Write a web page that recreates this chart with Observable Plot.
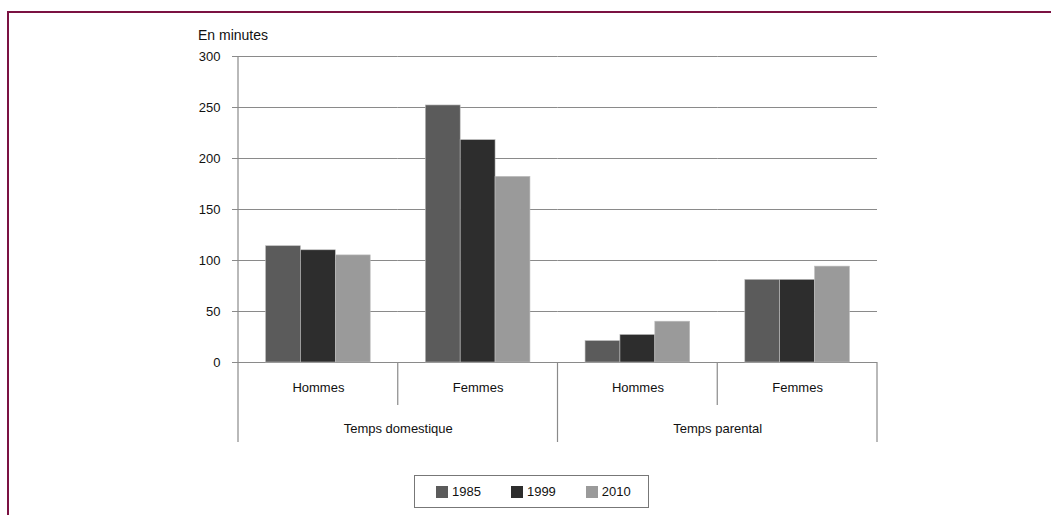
<!DOCTYPE html>
<html>
<head>
<meta charset="utf-8">
<script src="https://cdn.jsdelivr.net/npm/d3@7"></script>
<script src="https://cdn.jsdelivr.net/npm/@observablehq/plot@0.6"></script>
<style>
  body { margin: 0; background: #fff; font-family: "Liberation Sans", Arial, sans-serif; }
  #wrap { position: relative; width: 1051px; height: 515px; overflow: hidden; background: #fff; }
  #border { position: absolute; left: 7px; top: 11px; width: 1200px; height: 700px;
            border-left: 2.5px solid #7b1242; border-top: 2.5px solid #7b1242; }
  #chart { position: absolute; left: 0; top: 0; }
  #ylabel { position: absolute; left: 198px; top: 27px; font-size: 14px; color: #111; }
  #legend { position: absolute; left: 414px; top: 475px; width: 233px; height: 31px;
            border: 1px solid #777; box-sizing: content-box; display: flex; align-items: center;
            padding-left: 0; font-size: 13px; color: #111; }
  .sw { display: inline-flex; align-items: center; margin-left: 21px; }
  .sw + .sw { margin-left: 30px; }
  .sw i { display: inline-block; width: 12px; height: 12px; margin-right: 4px; }
</style>
</head>
<body>
<div id="wrap">
  <div id="border"></div>
  <div id="chart"></div>
  <div id="ylabel">En minutes</div>
  <div id="legend"></div>
</div>
<script>
const groups = ["Temps domestique", "Temps domestique", "Temps parental", "Temps parental"];
const subgroups = ["Hommes", "Femmes", "Hommes", "Femmes"];
const years = ["1985", "1999", "2010"];
const v1985 = [114, 252, 21, 81];
const v1999 = [110, 218, 27, 81];
const v2010 = [105, 182, 40, 94];
const colors = ["#5b5b5b", "#2d2d2d", "#9a9a9a"];
const yTicks = [0, 50, 100, 150, 200, 250, 300];

const series = [v1985, v1999, v2010];
const keys = subgroups.map((_, i) => i);
const rows = [];
keys.forEach(i => years.forEach((yr, j) => rows.push({k: i, sub: subgroups[i], group: groups[i], year: yr, value: series[j][i]})));
const subRows = keys.map(i => ({k: i, label: subgroups[i]}));
const groupRows = keys.filter(i => i % 2 === 0).map(i => ({k: i, label: groups[i]}));

const gridColor = "#8a8a8a";

const chart = Plot.plot({
  width: 1051,
  height: 460,
  marginLeft: 238,
  marginRight: 174,
  marginTop: 56,
  marginBottom: 98,
  style: {fontFamily: "'Liberation Sans', Arial, sans-serif", fontSize: "13px", color: "#111", background: "transparent"},
  fx: {domain: keys, padding: 0, round: false, axis: null},
  x: {domain: years, paddingInner: 0, paddingOuter: 0.79, round: false, axis: null},
  y: {domain: [0, 300], ticks: yTicks, tickSize: 6, tickPadding: 12, label: null},
  color: {domain: years, range: colors},
  marks: [
    Plot.ruleY(yTicks, {stroke: gridColor, strokeWidth: 1.2}),
    Plot.barY(rows, {fx: "k", x: "year", y: "value", fill: "year", stroke: "#bdbdbd", strokeWidth: 0.6}),
    Plot.text(subRows, {fx: "k", frameAnchor: "bottom", dy: 29, text: "label", fill: "#111", fontSize: 13}),
    Plot.text(groupRows, {fx: "k", frameAnchor: "bottom-right", dy: 70, textAnchor: "middle", text: "label", fill: "#111", fontSize: 13})
  ]
});

d3.select(chart).selectAll("g[aria-label='y-axis'] line, g[aria-label='y-axis tick'] path").attr("stroke", gridColor);

// separators and axis line, positioned through the library's scales
const fx = chart.scale("fx");
const ys = chart.scale("y");
const y0 = ys.apply(0), yTop = ys.apply(300);
const bw = fx.bandwidth;
const g = d3.select(chart).append("g").attr("stroke", gridColor).attr("stroke-width", 1.2);
const seps = [
  {x: fx.apply(keys[0]), y1: yTop, y2: y0 + 80},
  {x: fx.apply(keys[1]), y1: y0, y2: y0 + 43},
  {x: fx.apply(keys[2]), y1: y0, y2: y0 + 80},
  {x: fx.apply(keys[3]), y1: y0, y2: y0 + 43},
  {x: fx.apply(keys[3]) + bw, y1: y0, y2: y0 + 80}
];
g.selectAll("line").data(seps).join("line")
  .attr("x1", d => d.x).attr("x2", d => d.x)
  .attr("y1", d => d.y1).attr("y2", d => d.y2);

document.getElementById("chart").appendChild(chart);

// legend
const lg = d3.select("#legend");
years.forEach((yr, j) => {
  const s = lg.append("span").attr("class", "sw");
  s.append("i").style("background", colors[j]);
  s.append("span").text(yr);
});
</script>
</body>
</html>
